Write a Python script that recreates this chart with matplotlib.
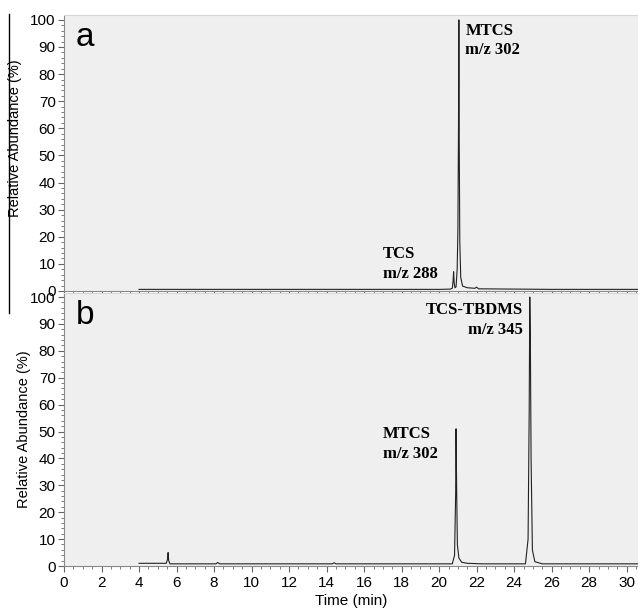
import numpy as np
import matplotlib.pyplot as plt
from matplotlib.ticker import MultipleLocator

plt.rcParams['font.family'] = ['Liberation Sans Narrow', 'Liberation Sans', 'DejaVu Sans']

# chromatogram traces (time in min, relative abundance in %)
t_a = [4.0, 10.0, 20.0, 20.6, 20.70, 20.74, 20.77, 20.80, 20.84, 20.90, 20.96, 21.00, 21.03,
       21.05, 21.07, 21.10, 21.15, 21.25, 21.5, 21.9, 22.0, 22.1, 26.0, 30.6]
y_a = [0.6, 0.6, 0.6, 0.7, 1.0, 3.5, 7.1, 3.0, 1.2, 1.5, 8.0, 23.0, 60.0,
       100.0, 55.0, 18.0, 5.0, 1.8, 1.2, 1.0, 1.4, 0.8, 0.6, 0.6]

t_b = [4.0, 5.45, 5.52, 5.55, 5.58, 5.65, 8.1, 8.2, 8.3, 14.3, 14.4, 14.5, 20.7, 20.82,
       20.88, 20.90, 20.93, 20.97, 21.05, 21.2, 21.5, 22.3, 24.6, 24.74, 24.80, 24.83,
       24.86, 24.90, 24.97, 25.1, 25.5, 30.6]
y_b = [1.0, 1.0, 2.5, 5.0, 2.0, 0.8, 0.8, 1.3, 0.8, 0.8, 1.2, 0.8, 0.8, 4.0,
       27.0, 51.0, 30.0, 8.0, 3.0, 1.4, 1.0, 0.8, 0.8, 10.0, 58.0, 100.0,
       86.0, 40.0, 6.0, 1.6, 0.8, 0.8]

W, H = 638, 612
fig = plt.figure(figsize=(W / 100, H / 100), dpi=100)
bg = '#efefef'

ax_a = fig.add_axes([64 / W, 1 - 291 / H, 1 - 64 / W, 276 / H])
ax_b = fig.add_axes([64 / W, 1 - 566 / H, 1 - 64 / W, 273 / H])

for ax, t, y, top in [(ax_a, t_a, y_a, 101.8), (ax_b, t_b, y_b, 101.5)]:
    ax.set_facecolor(bg)
    ax.plot(t, y, color='#222222', lw=0.8)
    ax.set_xlim(0, 30.6)
    ax.set_ylim(0, top)
    ax.yaxis.set_major_locator(MultipleLocator(10))
    ax.yaxis.set_minor_locator(MultipleLocator(2))
    ax.xaxis.set_major_locator(MultipleLocator(2))
    ax.xaxis.set_minor_locator(MultipleLocator(0.5))
    ax.tick_params(which='major', length=4, width=0.8, color='#666666', labelsize=11, pad=2)
    ax.tick_params(which='minor', length=2.5, width=0.6, color='#666666')
    for s in ['top', 'right']:
        ax.spines[s].set_color('#d8d8d8')
    for s in ['left', 'bottom']:
        ax.spines[s].set_color('#888888')
    ax.set_ylabel('Relative Abundance (%)', fontsize=10.5)

ax_a.tick_params(axis='x', labelbottom=False)
ax_b.tick_params(axis='x', pad=3)
ax_b.set_xlabel('Time (min)', fontsize=11, labelpad=3)
ax_a.yaxis.set_label_coords(-0.073, 0.555)
ax_b.yaxis.set_label_coords(-0.058, 0.5)

letter = dict(family=['Liberation Sans', 'DejaVu Sans'], fontsize=24, va='top')
ax_a.text(0.02, 0.975, 'a', transform=ax_a.transAxes, **letter)
ax_b.text(0.02, 0.975, 'b', transform=ax_b.transAxes, **letter)

serif = dict(family='Liberation Serif', fontweight='bold', fontsize=12, linespacing=1.3)
ax_a.text(21.4, 99, 'MTCS\nm/z 302', va='top', ha='left', **serif)
ax_a.text(17.0, 16.5, 'TCS\nm/z 288', va='top', ha='left', **serif)
ax_b.text(24.45, 98, 'TCS-TBDMS\nm/z 345', va='top', ha='right', multialignment='right', **serif)
ax_b.text(17.0, 52, 'MTCS\nm/z 302', va='top', ha='left', **serif)

# stray vertical rule at the far left of the original figure
fig.add_artist(plt.Line2D([9 / W, 9 / W], [1 - 14 / H, 1 - 313 / H], color='black', lw=1))

fig.savefig('out.png', dpi=100)
